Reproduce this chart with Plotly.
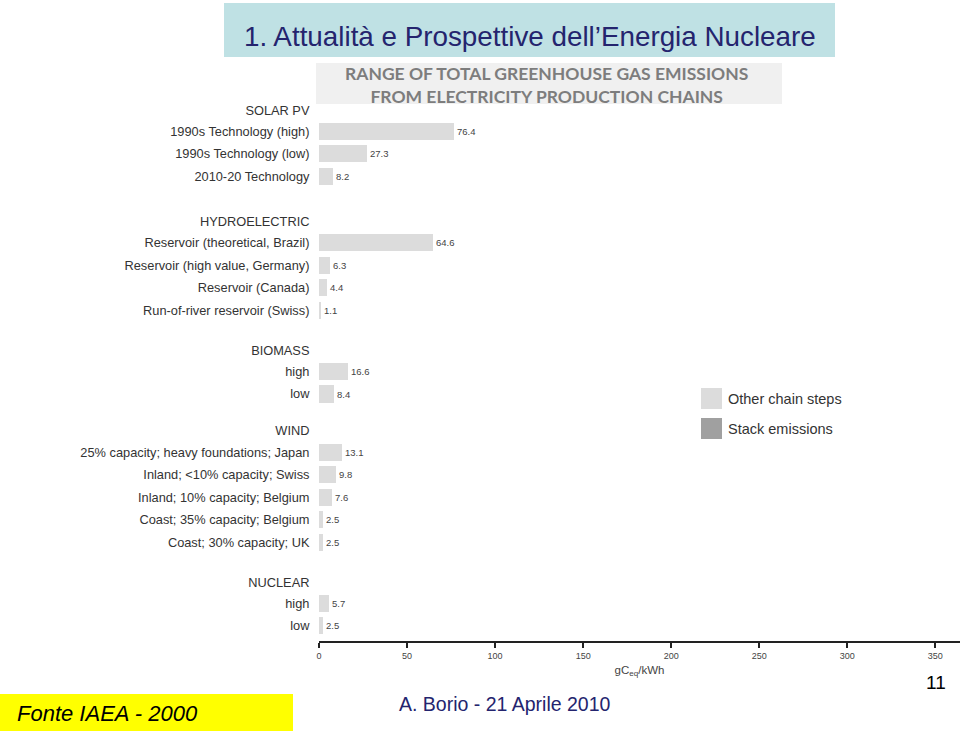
import plotly.graph_objects as go

# ---------------- data ----------------
group_names = ["SOLAR PV", "HYDROELECTRIC", "BIOMASS", "WIND", "NUCLEAR"]
solar_labels = ["1990s Technology (high)", "1990s Technology (low)", "2010-20 Technology"]
solar_values = [76.4, 27.3, 8.2]
hydro_labels = ["Reservoir (theoretical, Brazil)", "Reservoir (high value, Germany)",
                "Reservoir (Canada)", "Run-of-river reservoir (Swiss)"]
hydro_values = [64.6, 6.3, 4.4, 1.1]
biomass_labels = ["high", "low"]
biomass_values = [16.6, 8.4]
wind_labels = ["25% capacity; heavy foundations; Japan", "Inland; <10% capacity; Swiss",
               "Inland; 10% capacity; Belgium", "Coast; 35% capacity; Belgium",
               "Coast; 30% capacity; UK"]
wind_values = [13.1, 9.8, 7.6, 2.5, 2.5]
nuclear_labels = ["high", "low"]
nuclear_values = [5.7, 2.5]
x_ticks = [0, 50, 100, 150, 200, 250, 300, 350]
legend_names = ["Other chain steps", "Stack emissions"]

# ---------------- layout parameters ----------------
header_offset = 0.95
group_gaps = [2.0, 1.78, 1.64, 1.78]
BAR_COLOR = "#dcdcdc"
STACK_COLOR = "#a0a0a0"
TXT = "#333333"

groups = [
    (group_names[0], solar_labels, solar_values),
    (group_names[1], hydro_labels, hydro_values),
    (group_names[2], biomass_labels, biomass_values),
    (group_names[3], wind_labels, wind_values),
    (group_names[4], nuclear_labels, nuclear_values),
]

tickvals, ticktext = [], []
bar_y, bar_x = [], []
pos = 0.0
for gi, (gname, labels, vals) in enumerate(groups):
    if gi > 0:
        pos += group_gaps[gi - 1]
    tickvals.append(pos)
    ticktext.append(gname)
    pos += header_offset
    for i, (lab, v) in enumerate(zip(labels, vals)):
        if i > 0:
            pos += 1.0
        tickvals.append(pos)
        ticktext.append(lab)
        bar_y.append(pos)
        bar_x.append(v)

fig = go.Figure()
fig.add_trace(go.Bar(
    x=bar_x, y=bar_y, orientation="h", width=0.76,
    marker=dict(color=BAR_COLOR, line=dict(width=0)),
    text=[str(v) for v in bar_x], textposition="outside",
    textfont=dict(size=9.5, color="#444444", family="Liberation Sans, Arial"),
    cliponaxis=False, name=legend_names[0], showlegend=False,
))

fig.update_layout(
    width=960, height=733,
    margin=dict(l=319, r=0, t=95, b=92),
    paper_bgcolor="white", plot_bgcolor="white",
    font=dict(family="Liberation Sans, Arial", color=TXT),
    showlegend=False,
    bargap=0,
)
fig.update_yaxes(
    range=[23.62, -0.67], tickmode="array", tickvals=tickvals, ticktext=ticktext,
    showgrid=False, zeroline=False, showline=False,
    ticks="outside", ticklen=6, tickcolor="rgba(0,0,0,0)",
    tickfont=dict(size=12.8, color=TXT, family="Liberation Sans, Arial"),
)
fig.update_xaxes(
    range=[0, 364], tickmode="array", tickvals=x_ticks,
    showgrid=False, zeroline=False, showline=True, linecolor="#222222", linewidth=2,
    ticks="outside", ticklen=5, tickwidth=1.5, tickcolor="#222222",
    tickfont=dict(size=9, color="#444444"),
    title=dict(text="gC<sub>eq</sub>/kWh", font=dict(size=11.5, color="#444444"), standoff=6),
)

shapes = []
annotations = []
# title box
shapes.append(dict(type="rect", xref="paper", yref="paper", layer="below",
                   x0=(224 - 319) / 641, x1=(835 - 319) / 641,
                   y0=(641 - 57) / 546, y1=(641 - 3) / 546,
                   fillcolor="#bfe1e4", line=dict(width=0)))
annotations.append(dict(xref="paper", yref="paper", x=(530 - 319) / 641, y=(641 - 37) / 546,
                        text="1. Attualità e Prospettive dell’Energia Nucleare",
                        showarrow=False, xanchor="center", yanchor="middle",
                        font=dict(size=27.8, color="#24246e", family="Liberation Sans, Arial")))
# subtitle box
shapes.append(dict(type="rect", xref="paper", yref="paper", layer="below",
                   x0=(316 - 319) / 641, x1=(782 - 319) / 641,
                   y0=(641 - 104) / 546, y1=(641 - 63) / 546,
                   fillcolor="#f0f0f0", line=dict(width=0)))
annotations.append(dict(xref="paper", yref="paper", x=(546 - 319) / 641, y=(641 - 85) / 546,
                        text="<b>RANGE OF TOTAL GREENHOUSE GAS EMISSIONS<br>FROM ELECTRICITY PRODUCTION CHAINS</b>",
                        showarrow=False, xanchor="center", yanchor="middle", align="center",
                        font=dict(size=17.5, color="#7d7d7d", family="Lato, Open Sans")))
# legend
for k, (nm, col) in enumerate(zip(legend_names, [BAR_COLOR, STACK_COLOR])):
    yt = 388 + 30 * k
    shapes.append(dict(type="rect", xref="paper", yref="paper",
                       x0=(701 - 319) / 641, x1=(722 - 319) / 641,
                       y0=(641 - yt - 21) / 546, y1=(641 - yt) / 546,
                       fillcolor=col, line=dict(width=0)))
    annotations.append(dict(xref="paper", yref="paper", x=(726 - 319) / 641,
                            y=(641 - yt - 10.5) / 546, text=nm, showarrow=False,
                            xanchor="left", yanchor="middle",
                            font=dict(size=14.5, color=TXT, family="Liberation Sans, Arial")))
# footer
shapes.append(dict(type="rect", xref="paper", yref="paper",
                   x0=(0 - 319) / 641, x1=(293 - 319) / 641,
                   y0=(641 - 731) / 546, y1=(641 - 694) / 546,
                   fillcolor="#ffff00", line=dict(width=0)))
annotations.append(dict(xref="paper", yref="paper", x=(15 - 319) / 641, y=(641 - 713) / 546,
                        text="<i>Fonte IAEA - 2000</i>", showarrow=False,
                        xanchor="left", yanchor="middle",
                        font=dict(size=22, color="black", family="Liberation Sans, Arial")))
annotations.append(dict(xref="paper", yref="paper", x=(505 - 319) / 641, y=(641 - 704) / 546,
                        text="A. Borio - 21 Aprile 2010", showarrow=False,
                        xanchor="center", yanchor="middle",
                        font=dict(size=19.5, color="#24246e", family="Liberation Sans, Arial")))
annotations.append(dict(xref="paper", yref="paper", x=(936 - 319) / 641, y=(641 - 682) / 546,
                        text="11", showarrow=False, xanchor="center", yanchor="middle",
                        font=dict(size=19, color="black", family="Liberation Sans, Arial")))

fig.update_layout(shapes=shapes, annotations=annotations)
fig.write_html("out.html")
